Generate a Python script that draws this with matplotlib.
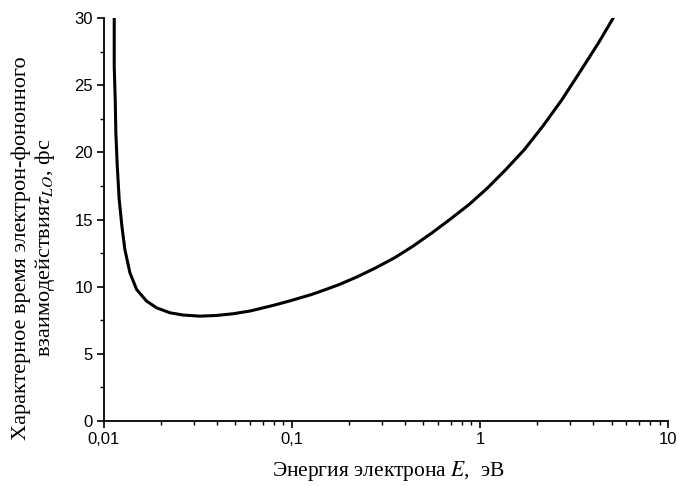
import numpy as np
import matplotlib.pyplot as plt
from matplotlib.ticker import FixedLocator, LogLocator, NullFormatter, MultipleLocator

# energy (eV) and characteristic time (fs)
energy = [0.01135, 0.01135, 0.01149, 0.01158, 0.01178, 0.01206, 0.01247, 0.01293,
          0.01375, 0.01492, 0.01686, 0.01907, 0.02245, 0.02643, 0.03236, 0.03977,
          0.04876, 0.05979, 0.0662, 0.080, 0.0977, 0.127, 0.1423, 0.179, 0.224,
          0.281, 0.3527, 0.440, 0.555, 0.690, 0.874, 1.097, 1.37, 1.72, 2.16,
          2.71, 3.40, 4.26, 5.10]
tau = [30.0, 26.4, 23.9, 21.4, 18.98, 16.5, 14.5, 12.77, 11.04, 9.80, 8.93, 8.43,
       8.06, 7.89, 7.81, 7.86, 7.99, 8.19, 8.34, 8.62, 8.95, 9.42, 9.66, 10.17,
       10.76, 11.43, 12.17, 13.02, 14.01, 15.0, 16.12, 17.36, 18.72, 20.21, 21.97,
       23.88, 26.0, 28.15, 30.0]

x_ticks = [0.01, 0.1, 1, 10]
x_ticklabels = ["0,01", "0,1", "1", "10"]
y_ticks = [0, 5, 10, 15, 20, 25, 30]

plt.rcParams['mathtext.fontset'] = 'stix'

fig = plt.figure(figsize=(6.79, 4.86), dpi=100)
ax = fig.add_axes([0.153, 0.1337, 0.831, 0.829])

ax.plot(energy, tau, color='black', lw=2.2, solid_joinstyle='round')

ax.set_xscale('log')
ax.set_xlim(0.01, 10)
ax.set_ylim(0, 30)

ax.spines['top'].set_visible(False)
ax.spines['right'].set_visible(False)
for s in ('left', 'bottom'):
    ax.spines[s].set_linewidth(1.3)

ax.xaxis.set_major_locator(FixedLocator(x_ticks))
ax.set_xticklabels(x_ticklabels)
ax.xaxis.set_minor_locator(LogLocator(base=10, subs=np.arange(2, 10)))
ax.xaxis.set_minor_formatter(NullFormatter())
ax.set_yticks(y_ticks)
ax.yaxis.set_minor_locator(MultipleLocator(2.5))

ax.tick_params(which='major', direction='out', length=5, width=1.2,
               labelsize=12, pad=3)
ax.tick_params(which='minor', direction='out', length=3, width=1.0)
for lab in ax.get_xticklabels() + ax.get_yticklabels():
    lab.set_family('Liberation Sans')

ax.set_xlabel(r"Энергия электрона $E$,  эВ", family='Liberation Serif',
              fontsize=15.5, va='top')
ax.xaxis.set_label_coords(0.504, -0.095)
ax.set_ylabel("Характерное время электрон-фононного\n"
              r"взаимодействия$\tau_{LO}$, фс", family='Liberation Serif',
              fontsize=16, linespacing=1.15)
ax.yaxis.set_label_coords(-0.083, 0.43)

fig.savefig("out.png", dpi=100)
